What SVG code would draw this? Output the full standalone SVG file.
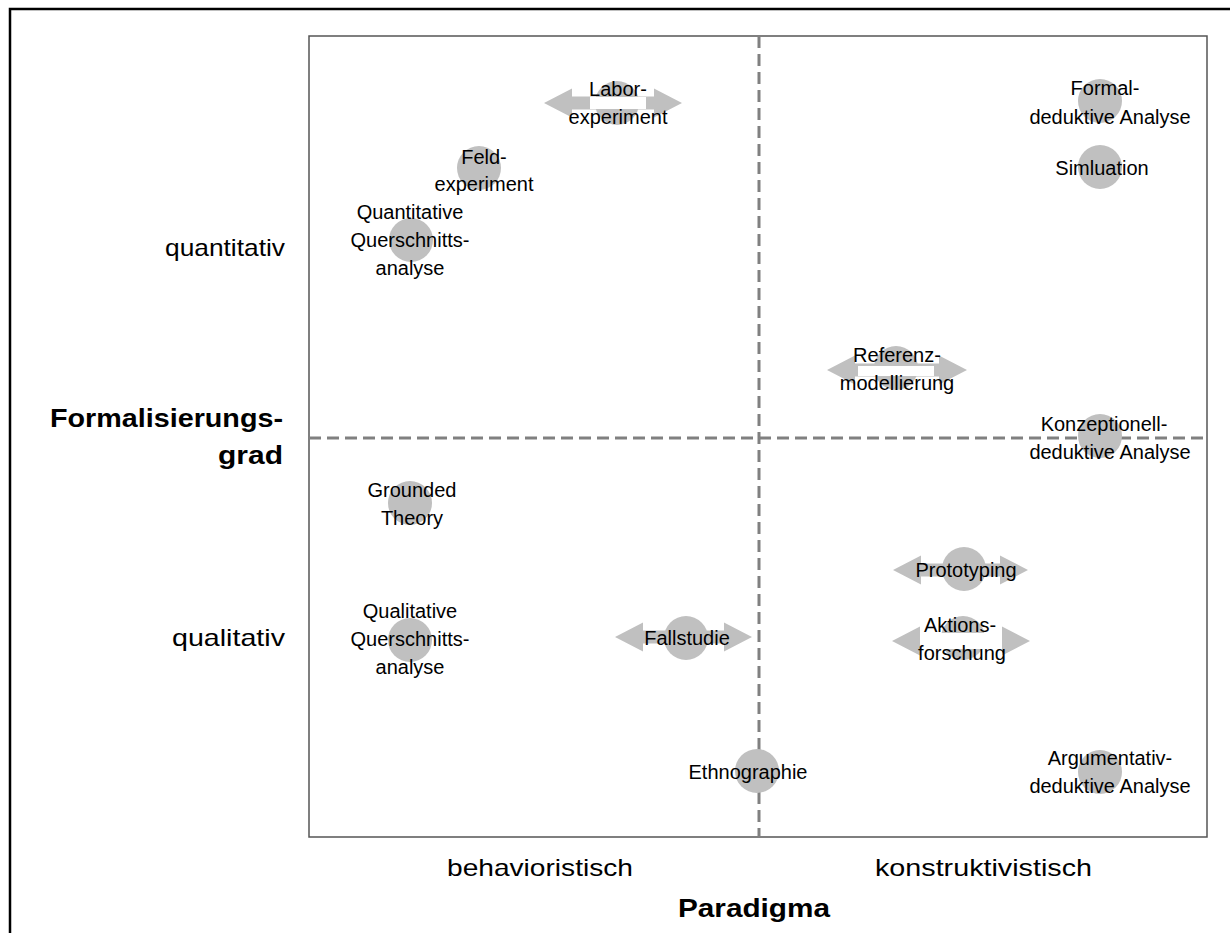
<svg xmlns="http://www.w3.org/2000/svg" width="1230" height="933" viewBox="0 0 1230 933">
<style>
.lbl{font-family:"Liberation Sans",Arial,sans-serif;font-size:20px;fill:#000;text-anchor:middle}
.ax{font-family:"Liberation Sans",Arial,sans-serif;font-size:24px;fill:#000}
.axb{font-family:"Liberation Sans",Arial,sans-serif;font-size:26px;font-weight:bold;fill:#000}
.dot{fill:#c0c0c0}
.arr{fill:#c0c0c0}
.dash{stroke:#808080;stroke-width:3;stroke-dasharray:12 6;fill:none}
</style>
<rect x="0" y="0" width="1230" height="933" fill="#fff"/>
<rect x="10" y="9" width="1240" height="950" fill="none" stroke="#000" stroke-width="2.5"/>
<rect x="309" y="36" width="898" height="801" fill="none" stroke="#555" stroke-width="1.5"/>
<g id="connectors">
<line class="dash" x1="759" y1="36" x2="759" y2="837"/>
<line class="dash" x1="309" y1="438" x2="1207" y2="438"/>
</g>
<g id="axes">
<text class="ax" x="285" y="256" text-anchor="end" textLength="120" lengthAdjust="spacingAndGlyphs">quantitativ</text>
<text class="ax" x="285" y="646" text-anchor="end" textLength="113" lengthAdjust="spacingAndGlyphs">qualitativ</text>
<text class="axb" x="283" y="427" text-anchor="end" textLength="233" lengthAdjust="spacingAndGlyphs">Formalisierungs-</text>
<text class="axb" x="283" y="464" text-anchor="end" textLength="65" lengthAdjust="spacingAndGlyphs">grad</text>
<text class="ax" x="447" y="876" textLength="186" lengthAdjust="spacingAndGlyphs">behavioristisch</text>
<text class="ax" x="875" y="876" textLength="217" lengthAdjust="spacingAndGlyphs">konstruktivistisch</text>
<text class="axb" x="678" y="917" textLength="152" lengthAdjust="spacingAndGlyphs">Paradigma</text>
</g>
<g id="laborexperiment">
<path class="arr" d="M544,103 L572,88.5 L572,96.5 L654,96.5 L654,88.5 L682,103 L654,117.5 L654,109.5 L572,109.5 L572,117.5 Z"/>
<circle class="dot" cx="617" cy="103" r="22"/>
<rect x="590" y="97" width="56" height="12" fill="#fff"/>
<text class="lbl" x="618" y="96">Labor-</text>
<text class="lbl" x="618" y="124">experiment</text>
</g>
<g id="feldexperiment">
<circle class="dot" cx="479" cy="168" r="22"/>
<text class="lbl" x="484" y="164">Feld-</text>
<text class="lbl" x="484" y="191">experiment</text>
</g>
<g id="quantquer">
<circle class="dot" cx="411" cy="240" r="22"/>
<text class="lbl" x="410" y="219">Quantitative</text>
<text class="lbl" x="410" y="247">Querschnitts-</text>
<text class="lbl" x="410" y="275">analyse</text>
</g>
<g id="formaldeduktiv">
<circle class="dot" cx="1100" cy="101" r="22"/>
<text class="lbl" x="1105" y="95">Formal-</text>
<text class="lbl" x="1110" y="124">deduktive Analyse</text>
</g>
<g id="simulation">
<circle class="dot" cx="1100" cy="167" r="22"/>
<text class="lbl" x="1102" y="175">Simluation</text>
</g>
<g id="referenzmodellierung">
<path class="arr" d="M827,370 L855,355.5 L855,363.5 L939,363.5 L939,355.5 L967,370 L939,384.5 L939,376.5 L855,376.5 L855,384.5 Z"/>
<circle class="dot" cx="896" cy="368" r="22"/>
<rect x="858" y="366" width="76" height="10" fill="#fff"/>
<text class="lbl" x="897" y="362">Referenz-</text>
<text class="lbl" x="897" y="390">modellierung</text>
</g>
<g id="konzeptionell">
<circle class="dot" cx="1100" cy="436" r="22"/>
<text class="lbl" x="1104" y="431">Konzeptionell-</text>
<text class="lbl" x="1110" y="459">deduktive Analyse</text>
</g>
<g id="grounded">
<circle class="dot" cx="410" cy="503" r="22"/>
<text class="lbl" x="412" y="497">Grounded</text>
<text class="lbl" x="412" y="525">Theory</text>
</g>
<g id="prototyping">
<path class="arr" d="M893,570 L921,555.5 L921,563.5 L1000,563.5 L1000,555.5 L1028,570 L1000,584.5 L1000,576.5 L921,576.5 L921,584.5 Z"/>
<circle class="dot" cx="964" cy="569" r="22"/>
<text class="lbl" x="966" y="577">Prototyping</text>
</g>
<g id="aktionsforschung">
<path class="arr" d="M892,641 L920,626.5 L920,634.5 L1002,634.5 L1002,626.5 L1030,641 L1002,655.5 L1002,647.5 L920,647.5 L920,655.5 Z"/>
<circle class="dot" cx="963" cy="638" r="22"/>
<rect x="920" y="633" width="82" height="16" fill="#fff"/>
<text class="lbl" x="960" y="632">Aktions-</text>
<text class="lbl" x="962" y="660">forschung</text>
</g>
<g id="qualquer">
<circle class="dot" cx="410" cy="640" r="22"/>
<text class="lbl" x="410" y="618">Qualitative</text>
<text class="lbl" x="410" y="646">Querschnitts-</text>
<text class="lbl" x="410" y="674">analyse</text>
</g>
<g id="fallstudie">
<path class="arr" d="M615,637 L643,622.5 L643,630.5 L724,630.5 L724,622.5 L752,637 L724,651.5 L724,643.5 L643,643.5 L643,651.5 Z"/>
<circle class="dot" cx="686" cy="638" r="22"/>
<text class="lbl" x="687" y="645">Fallstudie</text>
</g>
<g id="ethnographie">
<circle class="dot" cx="757" cy="771" r="22"/>
<text class="lbl" x="748" y="779">Ethnographie</text>
</g>
<g id="argumentativ">
<circle class="dot" cx="1100" cy="772" r="22"/>
<text class="lbl" x="1110" y="765">Argumentativ-</text>
<text class="lbl" x="1110" y="793">deduktive Analyse</text>
</g>
</svg>
